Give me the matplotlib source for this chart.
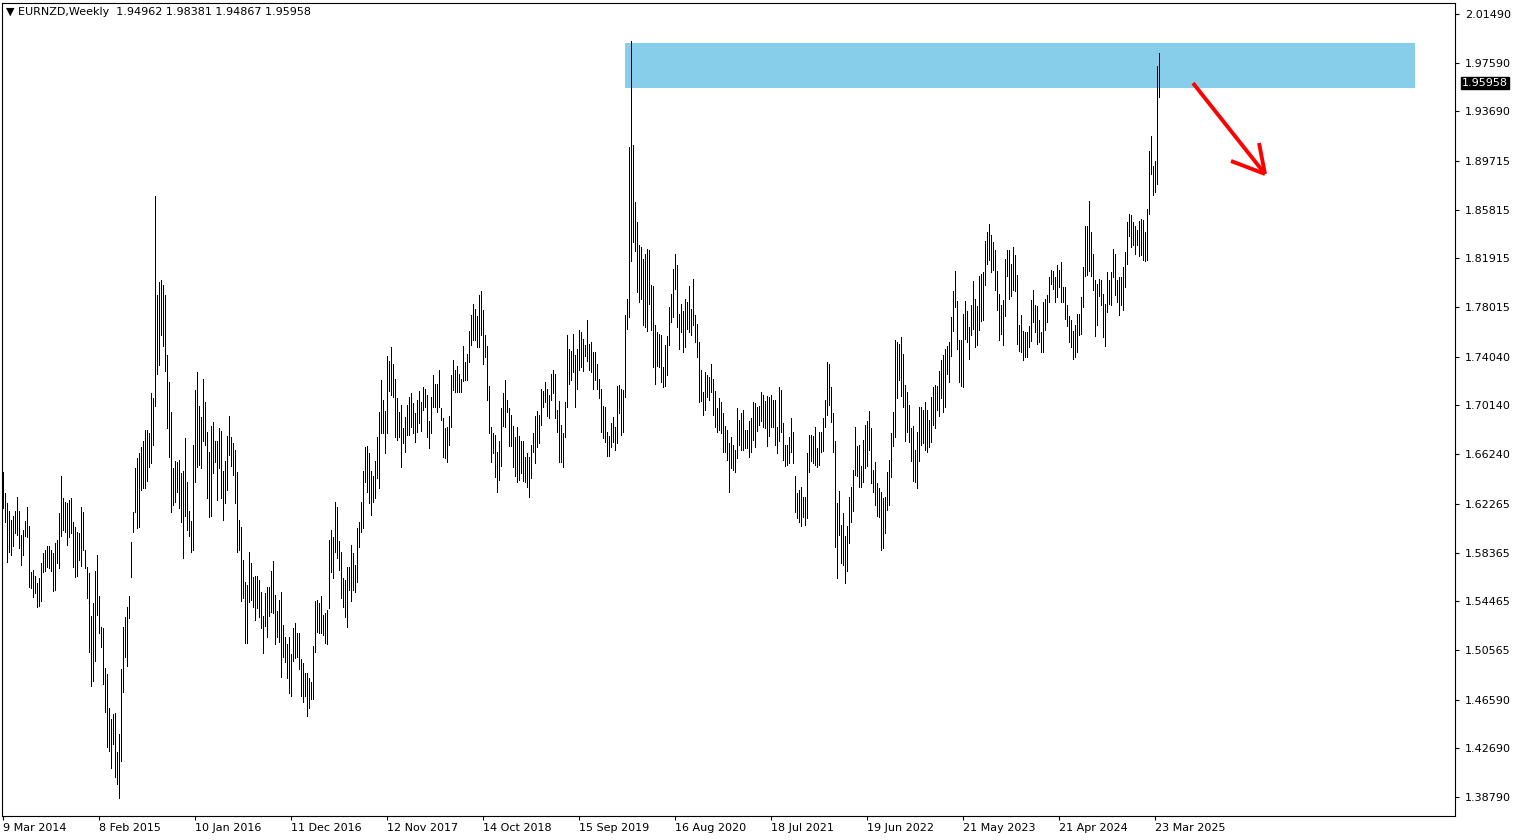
import matplotlib
matplotlib.use("Agg")
import matplotlib.pyplot as plt
import numpy as np
import pandas as pd

symbol = "EURNZD,Weekly"
last_ohlc = [1.94962, 1.98381, 1.94867, 1.95958]
first_week = "2014-03-09"

# weekly highs
highs = [
    1.648, 1.631, 1.623, 1.617, 1.610, 1.613, 1.617, 1.628, 1.617, 1.598,
    1.602, 1.609, 1.620, 1.605, 1.568, 1.570, 1.565, 1.559, 1.563, 1.575,
    1.583, 1.586, 1.589, 1.589, 1.586, 1.583, 1.591, 1.594, 1.615, 1.645,
    1.627, 1.624, 1.623, 1.626, 1.627, 1.608, 1.604, 1.600, 1.599, 1.620,
    1.616, 1.586, 1.572, 1.567, 1.533, 1.543, 1.569, 1.582, 1.549, 1.524,
    1.523, 1.491, 1.486, 1.459, 1.450, 1.454, 1.455, 1.424, 1.438, 1.490,
    1.524, 1.532, 1.540, 1.549, 1.592, 1.616, 1.651, 1.659, 1.663, 1.668,
    1.673, 1.682, 1.682, 1.679, 1.711, 1.707, 1.869, 1.790, 1.800, 1.802,
    1.798, 1.790, 1.742, 1.720, 1.696, 1.651, 1.657, 1.656, 1.658, 1.647,
    1.649, 1.675, 1.640, 1.617, 1.609, 1.670, 1.714, 1.728, 1.701, 1.692,
    1.723, 1.704, 1.680, 1.664, 1.685, 1.688, 1.673, 1.673, 1.683, 1.681,
    1.649, 1.657, 1.677, 1.693, 1.676, 1.671, 1.666, 1.648, 1.610, 1.604,
    1.578, 1.560, 1.558, 1.584, 1.575, 1.564, 1.565, 1.565, 1.562, 1.552,
    1.533, 1.551, 1.556, 1.556, 1.569, 1.577, 1.550, 1.537, 1.546, 1.552,
    1.526, 1.516, 1.510, 1.516, 1.502, 1.523, 1.527, 1.519, 1.519, 1.498,
    1.495, 1.487, 1.487, 1.483, 1.480, 1.509, 1.545, 1.546, 1.543, 1.549,
    1.534, 1.535, 1.538, 1.594, 1.602, 1.596, 1.624, 1.620, 1.593, 1.584,
    1.563, 1.562, 1.572, 1.572, 1.590, 1.583, 1.574, 1.603, 1.608, 1.624,
    1.649, 1.668, 1.669, 1.663, 1.649, 1.645, 1.657, 1.676, 1.696, 1.722,
    1.706, 1.697, 1.741, 1.737, 1.748, 1.735, 1.723, 1.707, 1.696, 1.702,
    1.683, 1.692, 1.702, 1.708, 1.711, 1.703, 1.695, 1.706, 1.713, 1.704,
    1.716, 1.715, 1.710, 1.689, 1.708, 1.726, 1.719, 1.719, 1.730, 1.699,
    1.691, 1.683, 1.684, 1.693, 1.726, 1.738, 1.730, 1.733, 1.727, 1.723,
    1.749, 1.736, 1.743, 1.761, 1.774, 1.783, 1.779, 1.773, 1.790, 1.793,
    1.778, 1.758, 1.749, 1.717, 1.684, 1.679, 1.678, 1.664, 1.673, 1.699,
    1.711, 1.722, 1.706, 1.699, 1.694, 1.685, 1.676, 1.684, 1.677, 1.673,
    1.673, 1.660, 1.663, 1.660, 1.670, 1.679, 1.693, 1.697, 1.694, 1.715,
    1.713, 1.720, 1.715, 1.710, 1.727, 1.730, 1.727, 1.698, 1.705, 1.686,
    1.679, 1.704, 1.758, 1.747, 1.745, 1.759, 1.742, 1.747, 1.762, 1.760,
    1.755, 1.750, 1.770, 1.751, 1.752, 1.744, 1.744, 1.735, 1.723, 1.715,
    1.701, 1.700, 1.680, 1.677, 1.687, 1.692, 1.684, 1.717, 1.718, 1.715,
    1.714, 1.774, 1.787, 1.908, 1.993, 1.910, 1.864, 1.848, 1.830, 1.828,
    1.819, 1.823, 1.827, 1.826, 1.798, 1.797, 1.766, 1.760, 1.759, 1.758,
    1.732, 1.750, 1.757, 1.780, 1.791, 1.811, 1.823, 1.814, 1.775, 1.783,
    1.777, 1.787, 1.784, 1.797, 1.779, 1.803, 1.774, 1.767, 1.752, 1.730,
    1.712, 1.728, 1.726, 1.724, 1.735, 1.723, 1.713, 1.699, 1.707, 1.704,
    1.695, 1.685, 1.682, 1.671, 1.676, 1.670, 1.666, 1.699, 1.690, 1.695,
    1.698, 1.682, 1.682, 1.689, 1.691, 1.704, 1.703, 1.700, 1.701, 1.712,
    1.710, 1.705, 1.709, 1.708, 1.710, 1.706, 1.706, 1.684, 1.716, 1.714,
    1.687, 1.670, 1.670, 1.676, 1.691, 1.680, 1.645, 1.631, 1.634, 1.636,
    1.628, 1.628, 1.663, 1.678, 1.678, 1.677, 1.684, 1.667, 1.680, 1.680,
    1.691, 1.706, 1.736, 1.735, 1.716, 1.695, 1.673, 1.623, 1.633, 1.606,
    1.615, 1.597, 1.605, 1.628, 1.636, 1.650, 1.684, 1.669, 1.670, 1.653,
    1.674, 1.686, 1.689, 1.697, 1.683, 1.650, 1.656, 1.639, 1.635, 1.632,
    1.627, 1.628, 1.648, 1.658, 1.679, 1.696, 1.754, 1.752, 1.751, 1.756,
    1.743, 1.718, 1.712, 1.702, 1.683, 1.685, 1.666, 1.680, 1.700, 1.700,
    1.698, 1.704, 1.698, 1.690, 1.708, 1.716, 1.718, 1.717, 1.729, 1.738,
    1.742, 1.747, 1.749, 1.752, 1.772, 1.793, 1.809, 1.785, 1.754, 1.754,
    1.775, 1.785, 1.777, 1.764, 1.782, 1.801, 1.787, 1.781, 1.805, 1.807,
    1.808, 1.833, 1.840, 1.847, 1.838, 1.832, 1.826, 1.809, 1.791, 1.782,
    1.786, 1.819, 1.826, 1.826, 1.815, 1.828, 1.822, 1.806, 1.766, 1.774,
    1.761, 1.760, 1.760, 1.765, 1.786, 1.794, 1.782, 1.781, 1.770, 1.760,
    1.784, 1.787, 1.790, 1.804, 1.810, 1.809, 1.804, 1.814, 1.810, 1.816,
    1.796, 1.796, 1.782, 1.773, 1.770, 1.761, 1.766, 1.775, 1.775, 1.788,
    1.812, 1.845, 1.845, 1.865, 1.840, 1.823, 1.802, 1.799, 1.803, 1.802,
    1.791, 1.783, 1.808, 1.802, 1.808, 1.827, 1.823, 1.802, 1.804, 1.804,
    1.812, 1.824, 1.848, 1.855, 1.854, 1.848, 1.845, 1.842, 1.849, 1.851,
    1.850, 1.840, 1.859, 1.905, 1.917, 1.893, 1.897, 1.973, 1.98381,
]

# weekly lows
lows = [
    1.619, 1.608, 1.576, 1.584, 1.582, 1.589, 1.599, 1.598, 1.587, 1.574,
    1.582, 1.597, 1.596, 1.556, 1.555, 1.548, 1.551, 1.540, 1.541, 1.545,
    1.568, 1.569, 1.572, 1.571, 1.569, 1.553, 1.554, 1.575, 1.571, 1.597,
    1.602, 1.600, 1.590, 1.596, 1.599, 1.572, 1.564, 1.565, 1.578, 1.573,
    1.586, 1.571, 1.547, 1.504, 1.477, 1.481, 1.497, 1.534, 1.519, 1.508,
    1.478, 1.456, 1.428, 1.425, 1.411, 1.430, 1.404, 1.398, 1.387, 1.417,
    1.472, 1.500, 1.493, 1.531, 1.564, 1.600, 1.616, 1.603, 1.604, 1.634,
    1.635, 1.635, 1.641, 1.652, 1.655, 1.670, 1.701, 1.727, 1.734, 1.758,
    1.749, 1.729, 1.683, 1.660, 1.616, 1.622, 1.624, 1.632, 1.619, 1.608,
    1.579, 1.613, 1.602, 1.597, 1.584, 1.586, 1.640, 1.652, 1.654, 1.651,
    1.673, 1.670, 1.627, 1.612, 1.613, 1.647, 1.656, 1.626, 1.651, 1.627,
    1.610, 1.623, 1.634, 1.662, 1.653, 1.646, 1.623, 1.584, 1.586, 1.545,
    1.547, 1.511, 1.511, 1.544, 1.546, 1.540, 1.530, 1.539, 1.532, 1.523,
    1.503, 1.525, 1.516, 1.533, 1.536, 1.535, 1.510, 1.516, 1.512, 1.484,
    1.500, 1.496, 1.483, 1.471, 1.469, 1.497, 1.499, 1.500, 1.490, 1.469,
    1.464, 1.469, 1.453, 1.459, 1.466, 1.466, 1.504, 1.520, 1.519, 1.519,
    1.518, 1.511, 1.510, 1.539, 1.568, 1.563, 1.584, 1.579, 1.570, 1.547,
    1.540, 1.532, 1.524, 1.554, 1.545, 1.554, 1.552, 1.560, 1.588, 1.600,
    1.603, 1.640, 1.632, 1.623, 1.614, 1.624, 1.627, 1.643, 1.635, 1.679,
    1.679, 1.663, 1.679, 1.713, 1.710, 1.708, 1.676, 1.674, 1.676, 1.652,
    1.671, 1.664, 1.678, 1.678, 1.684, 1.679, 1.672, 1.680, 1.687, 1.681,
    1.698, 1.700, 1.676, 1.667, 1.679, 1.700, 1.700, 1.696, 1.700, 1.690,
    1.660, 1.659, 1.656, 1.670, 1.684, 1.714, 1.712, 1.712, 1.712, 1.712,
    1.721, 1.722, 1.722, 1.736, 1.750, 1.754, 1.754, 1.748, 1.748, 1.758,
    1.735, 1.740, 1.706, 1.679, 1.656, 1.663, 1.644, 1.632, 1.642, 1.653,
    1.685, 1.684, 1.696, 1.669, 1.669, 1.652, 1.645, 1.640, 1.642, 1.647,
    1.641, 1.640, 1.636, 1.628, 1.643, 1.664, 1.655, 1.668, 1.671, 1.686,
    1.700, 1.704, 1.693, 1.691, 1.706, 1.711, 1.691, 1.680, 1.656, 1.656,
    1.652, 1.676, 1.700, 1.719, 1.722, 1.728, 1.700, 1.715, 1.730, 1.732,
    1.729, 1.741, 1.737, 1.730, 1.728, 1.715, 1.722, 1.715, 1.707, 1.680,
    1.675, 1.672, 1.661, 1.661, 1.668, 1.672, 1.666, 1.671, 1.695, 1.678,
    1.680, 1.708, 1.763, 1.772, 1.817, 1.832, 1.825, 1.792, 1.784, 1.787,
    1.766, 1.764, 1.761, 1.783, 1.762, 1.732, 1.719, 1.733, 1.732, 1.720,
    1.716, 1.717, 1.726, 1.750, 1.768, 1.772, 1.795, 1.764, 1.747, 1.760,
    1.744, 1.748, 1.763, 1.760, 1.758, 1.766, 1.752, 1.740, 1.704, 1.705,
    1.694, 1.698, 1.708, 1.706, 1.712, 1.694, 1.684, 1.680, 1.682, 1.679,
    1.664, 1.664, 1.658, 1.632, 1.651, 1.650, 1.648, 1.659, 1.670, 1.666,
    1.666, 1.667, 1.667, 1.660, 1.664, 1.674, 1.668, 1.681, 1.686, 1.689,
    1.684, 1.683, 1.669, 1.677, 1.684, 1.684, 1.670, 1.663, 1.673, 1.680,
    1.658, 1.653, 1.654, 1.655, 1.664, 1.655, 1.616, 1.611, 1.608, 1.605,
    1.612, 1.606, 1.611, 1.648, 1.657, 1.655, 1.654, 1.652, 1.654, 1.664,
    1.665, 1.684, 1.694, 1.702, 1.688, 1.664, 1.588, 1.563, 1.598, 1.575,
    1.574, 1.559, 1.569, 1.591, 1.608, 1.617, 1.646, 1.645, 1.636, 1.636,
    1.640, 1.651, 1.653, 1.666, 1.639, 1.632, 1.622, 1.613, 1.612, 1.586,
    1.587, 1.599, 1.618, 1.622, 1.644, 1.669, 1.676, 1.707, 1.722, 1.709,
    1.700, 1.673, 1.680, 1.672, 1.657, 1.641, 1.640, 1.635, 1.657, 1.670,
    1.671, 1.666, 1.664, 1.668, 1.672, 1.686, 1.683, 1.698, 1.693, 1.707,
    1.696, 1.700, 1.727, 1.720, 1.741, 1.761, 1.780, 1.747, 1.720, 1.717,
    1.716, 1.755, 1.752, 1.739, 1.758, 1.763, 1.748, 1.750, 1.762, 1.769,
    1.770, 1.798, 1.815, 1.818, 1.808, 1.810, 1.794, 1.778, 1.754, 1.759,
    1.750, 1.773, 1.805, 1.787, 1.789, 1.794, 1.793, 1.751, 1.745, 1.744,
    1.738, 1.740, 1.740, 1.748, 1.753, 1.768, 1.760, 1.751, 1.752, 1.744,
    1.744, 1.762, 1.768, 1.784, 1.799, 1.795, 1.784, 1.788, 1.796, 1.784,
    1.784, 1.771, 1.765, 1.752, 1.748, 1.739, 1.740, 1.744, 1.758, 1.759,
    1.780, 1.805, 1.806, 1.809, 1.805, 1.794, 1.757, 1.766, 1.789, 1.782,
    1.756, 1.749, 1.776, 1.783, 1.782, 1.804, 1.790, 1.784, 1.774, 1.782,
    1.778, 1.796, 1.815, 1.837, 1.828, 1.830, 1.823, 1.830, 1.821, 1.822,
    1.818, 1.817, 1.818, 1.855, 1.887, 1.870, 1.872, 1.879, 1.94867,
]

price_ticks = [2.01490, 1.97590, 1.93690, 1.89715, 1.85815, 1.81915, 1.78015,
               1.74040, 1.70140, 1.66240, 1.62265, 1.58365, 1.54465, 1.50565,
               1.46590, 1.42690, 1.38790]

# resistance zone (bar positions / prices) and the drawn arrow
zone_left, zone_right = 311, 706
zone_low, zone_high = 1.9556, 1.9917
arrow_start = (595, 1.9596)
arrow_tip = (631, 1.8868)
arrow_arm1 = (614, 1.8972)
arrow_arm2 = (628, 1.9116)

W, H = 1519, 840
fig = plt.figure(figsize=(W / 100, H / 100), dpi=100)
fig.patch.set_facecolor("white")
ax = fig.add_axes([2 / W, 1 - 816 / H, (1455 - 2) / W, (816 - 3) / H])

x = np.arange(len(highs))
weeks = pd.date_range(first_week, periods=len(highs), freq="7D")

# zone behind the bars
ax.add_patch(plt.Rectangle((zone_left, zone_low), zone_right - zone_left,
                           zone_high - zone_low, facecolor="#87CEEB",
                           edgecolor="none", zorder=1))

ax.vlines(x, lows, highs, colors="black", linewidth=0.5,
          antialiaseds=False, zorder=3)

# red arrow
red = "#FF0000"
for p in (arrow_start, arrow_arm1, arrow_arm2):
    ax.plot([p[0], arrow_tip[0]], [p[1], arrow_tip[1]],
            color=red, lw=2.8, solid_capstyle="butt", zorder=4)

ax.set_xlim(-0.5, 726)
ax.set_ylim(1.37266, 2.02371)

# date axis
tick_idx = list(range(0, len(weeks), 48))
ax.set_xticks(tick_idx)
ax.set_xticklabels([f"{weeks[i].day} {weeks[i].strftime('%b %Y')}" for i in tick_idx],
                   ha="left", fontsize=8)
ax.tick_params(axis="x", direction="out", length=3, width=0.8, pad=2)

# price axis on the right
ax.yaxis.tick_right()
ax.set_yticks(price_ticks)
ax.set_yticklabels([f"{p:.5f}" for p in price_ticks], fontsize=8)
ax.tick_params(axis="y", direction="out", length=3, width=0.8, pad=4)

for s in ax.spines.values():
    s.set_linewidth(0.8)
    s.set_color("black")

# last price tag
ax.annotate(f"{last_ohlc[3]:.5f}", xy=(1, last_ohlc[3]),
            xycoords=("axes fraction", "data"), xytext=(5, 0),
            textcoords="offset points", ha="left", va="center",
            fontsize=8, color="white",
            bbox=dict(boxstyle="square,pad=0.12", fc="black", ec="black"))

# header
header = "\u25BC " + symbol + "  " + " ".join(f"{v:.5f}" for v in last_ohlc)
ax.text(0.003, 0.995, header, transform=ax.transAxes, ha="left", va="top",
        fontsize=8, color="black")

fig.savefig("out.png", dpi=100, facecolor="white")
